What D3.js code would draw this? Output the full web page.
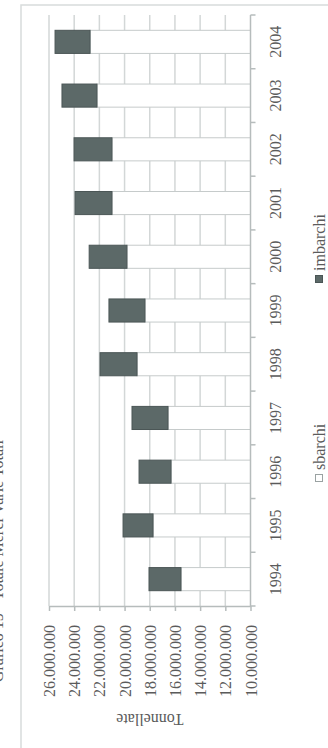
<!DOCTYPE html>
<html>
<head>
<meta charset="utf-8">
<script src="https://cdn.jsdelivr.net/npm/d3@7"></script>
<style>
  html, body { margin: 0; padding: 0; background: #fff; }
  svg { display: block; font-family: 'Liberation Serif', 'DejaVu Serif', serif; }
</style>
</head>
<body>
<div id="chart"></div>
<script>
const years = ['1994', '1995', '1996', '1997', '1998', '1999', '2000', '2001', '2002', '2003', '2004']
const sbarchi = [15.52, 17.74, 16.31, 16.55, 19.01, 18.38, 19.81, 21.0, 21.0, 22.19, 22.74].map(v => v * 1e6)
const imbarchi = [2.54, 2.38, 2.54, 2.86, 2.94, 2.86, 3.0, 2.93, 3.01, 2.78, 2.78].map(v => v * 1e6)
const valueTicks = [10e6, 12e6, 14e6, 16e6, 18e6, 20e6, 22e6, 24e6, 26e6]
const series = ['sbarchi', 'imbarchi']
const title = 'Grafico 15 - Totale Merci Varie Totali'
const axisTitle = 'Tonnellate'

const width = 328
const height = 748
const axisX = 250.5
const axisBottom = 606
const axisTop = 15
const gridColor = '#d3d7d7'
const axisColor = '#b6bcbc'
const textColor = '#5b5b5b'
const darkFill = '#5c6968'

const it = d3.formatLocale({ decimal: ',', thousands: '.', grouping: [3], currency: ['', ''] })
const fmt = it.format(',')

const x = d3.scaleLinear()
  .domain([10e6, 26e6])
  .range([axisX, 49])

const y = d3.scaleBand()
  .domain(years)
  .range([axisBottom, axisTop])
  .paddingInner(0.57)
  .paddingOuter(0.285)

const svg = d3.select('#chart').append('svg')
  .attr('width', width)
  .attr('height', height)
  .attr('viewBox', [0, 0, width, height])

// outer frame, runs off the page on the right and bottom
svg.append('rect')
  .attr('x', 21)
  .attr('y', 5)
  .attr('width', 400)
  .attr('height', 800)
  .attr('fill', 'none')
  .attr('stroke', '#d8dcdc')
  .attr('stroke-width', 1.5)

// clipped title on the left edge
svg.append('text')
  .attr('transform', 'translate(3, 440) rotate(-90)')
  .attr('text-anchor', 'end')
  .attr('font-size', 16)
  .attr('fill', textColor)
  .text(title)

// vertical gridlines
svg.append('g')
  .selectAll('line')
  .data(valueTicks.filter(d => d > 10e6))
  .join('line')
  .attr('x1', d => x(d))
  .attr('x2', d => x(d))
  .attr('y1', axisTop)
  .attr('y2', axisBottom)
  .attr('stroke', gridColor)
  .attr('stroke-width', 1.5)

// value axis along the bottom
const gx = svg.append('g')
  .attr('transform', `translate(0, ${axisBottom})`)
  .call(d3.axisBottom(x).tickValues(valueTicks).tickSize(5).tickSizeOuter(0).tickFormat(fmt))
  .attr('font-family', 'inherit')
  .call(g => g.select('.domain').attr('stroke', axisColor).attr('stroke-width', 1.5))
  .call(g => g.selectAll('.tick line').attr('stroke', axisColor).attr('stroke-width', 1.5))
  .call(g => g.selectAll('.tick text')
    .attr('font-size', 16)
    .attr('fill', textColor)
    .attr('transform', 'rotate(-90)')
    .attr('text-anchor', 'end')
    .attr('x', -19)
    .attr('y', 0)
    .attr('dy', '0.35em'))

svg.append('text')
  .attr('transform', `translate(${(x(10e6) + x(26e6)) / 2}, 720) rotate(180)`)
  .attr('text-anchor', 'middle')
  .attr('dy', '0.35em')
  .attr('font-size', 16)
  .attr('fill', textColor)
  .text(axisTitle)

// bars
const bars = svg.append('g')

bars.selectAll('rect.sb')
  .data(years)
  .join('rect')
  .attr('class', 'sb')
  .attr('x', (d, i) => x(sbarchi[i]))
  .attr('width', (d, i) => x(10e6) - x(sbarchi[i]))
  .attr('y', d => y(d))
  .attr('height', y.bandwidth())
  .attr('fill', '#fff')
  .attr('stroke', '#c6cbcb')
  .attr('stroke-width', 1)

bars.selectAll('rect.im')
  .data(years)
  .join('rect')
  .attr('class', 'im')
  .attr('x', (d, i) => x(sbarchi[i] + imbarchi[i]))
  .attr('width', (d, i) => x(sbarchi[i]) - x(sbarchi[i] + imbarchi[i]))
  .attr('y', d => y(d))
  .attr('height', y.bandwidth())
  .attr('fill', darkFill)
  .attr('stroke', '#4b5656')
  .attr('stroke-width', 1)

// category axis on the right, ticks between bands
const gy = svg.append('g')

gy.append('line')
  .attr('x1', axisX).attr('x2', axisX)
  .attr('y1', axisTop).attr('y2', axisBottom)
  .attr('stroke', axisColor)
  .attr('stroke-width', 1.5)

const step = y.step()
gy.selectAll('line.tick')
  .data(d3.range(years.length + 1))
  .join('line')
  .attr('class', 'tick')
  .attr('x1', axisX).attr('x2', axisX + 5)
  .attr('y1', i => axisBottom - i * step)
  .attr('y2', i => axisBottom - i * step)
  .attr('stroke', axisColor)
  .attr('stroke-width', 1.5)

gy.selectAll('text')
  .data(years)
  .join('text')
  .attr('transform', d => `translate(275, ${y(d) + y.bandwidth() / 2}) rotate(-90)`)
  .attr('text-anchor', 'middle')
  .attr('dy', '0.35em')
  .attr('font-size', 16)
  .attr('fill', textColor)
  .text(d => d)

// legend
const legendPos = { sbarchi: 482, imbarchi: 283 }
const legend = svg.append('g')
  .selectAll('g')
  .data(series)
  .join('g')
  .attr('transform', d => `translate(319, ${legendPos[d]})`)

legend.append('rect')
  .attr('x', -3.5)
  .attr('y', -7.5)
  .attr('width', 7)
  .attr('height', 7)
  .attr('fill', d => d === 'imbarchi' ? darkFill : '#fff')
  .attr('stroke', d => d === 'imbarchi' ? '#4b5656' : '#9aa2a2')
  .attr('stroke-width', 1)

legend.append('text')
  .attr('transform', 'translate(0, -12) rotate(-90)')
  .attr('dy', '0.35em')
  .attr('font-size', 16)
  .attr('fill', textColor)
  .text(d => d)
</script>
</body>
</html>
